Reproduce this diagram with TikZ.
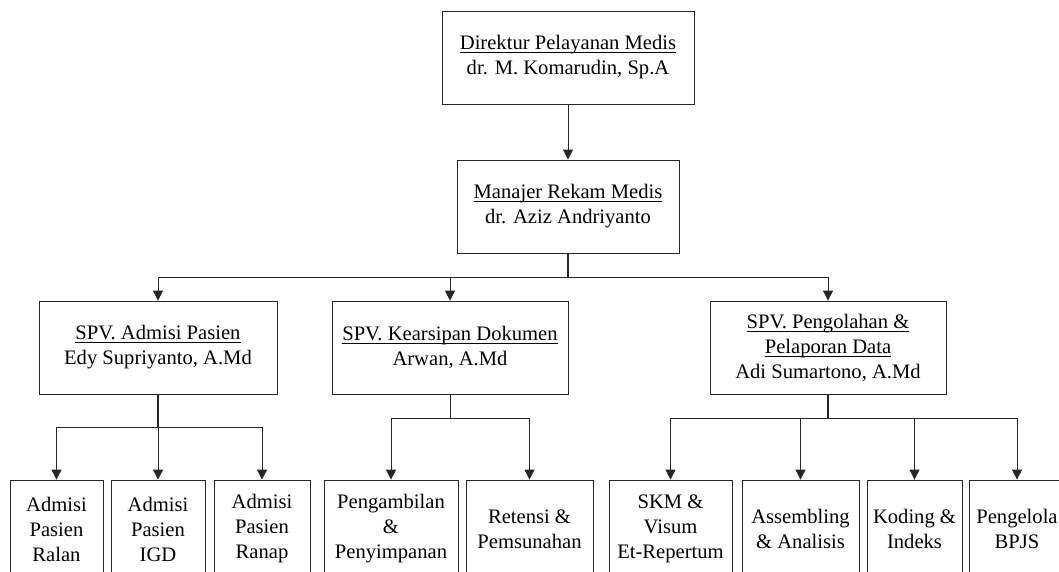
\documentclass[tikz,border=0pt]{standalone}
\usepackage{fontspec}
\usepackage{amsmath}
\setmainfont{Liberation Serif}
\usetikzlibrary{arrows.meta,positioning}
\newcommand{\undertxt}[1]{\underline{\smash[b]{#1}}}

\begin{document}
\begin{tikzpicture}[x=1pt, y=-1pt,
		box/.style={draw=black!85, line width=0.8pt, align=center, inner sep=0pt, minimum height=93pt, font=\fontsize{20.6}{25}\selectfont},
		unit/.style={box, minimum height=98pt},
		link/.style={draw=black!85, line width=0.8pt},
		stem/.style={link, line width=1.4pt},
		arr/.style={link, -{Triangle[length=10pt,width=10pt]}}]
			\useasboundingbox (0,0) rectangle (1059,571);

			\node[box, minimum width=252pt] (dir) at (568,57.5) {\undertxt{Direktur Pelayanan Medis}\\dr. M. Komarudin, Sp.A};
			\node[box, minimum width=222pt] (mgr) at (568,206.5) {\undertxt{Manajer Rekam Medis}\\dr. Aziz Andriyanto};

			\node[box, minimum width=238pt] (spv1) at (158,347.5) {\undertxt{SPV. Admisi Pasien}\\Edy Supriyanto, A.Md};
			\node[box, minimum width=236pt] (spv2) at (450,347.5) {\undertxt{SPV. Kearsipan Dokumen}\\Arwan, A.Md};
			\node[box, minimum width=236pt] (spv3) at (828,347.5) {\undertxt{SPV. Pengolahan \&}\\\undertxt{Pelaporan Data}\\Adi Sumartono, A.Md};

			\node[unit, minimum width=93pt] (ralan) at (56.5,529) {Admisi\\Pasien\\Ralan};
			\node[unit, minimum width=94pt] (igd) at (158,529) {Admisi\\Pasien\\IGD};
			\node[unit, minimum width=96pt] (ranap) at (262,529) {Admisi\\Pasien\\Ranap};

			\node[unit, minimum width=134pt] (ambil) at (391,529) {Pengambilan\\\&\\Penyimpanan};
			\node[unit, minimum width=127pt] (retensi) at (529.5,529) {Retensi \&\\Pemsunahan};

			\node[unit, minimum width=123pt] (skm) at (670.5,529) {SKM \&\\Visum\\Et-Repertum};
			\node[unit, minimum width=117pt] (assm) at (800.5,529) {Assembling\\\& Analisis};
			\node[unit, minimum width=95pt] (koding) at (914.5,529) {Koding \&\\Indeks};
			\node[unit, minimum width=96pt] (bpjs) at (1017,529) {Pengelola\\BPJS};

			\draw[arr] (dir) -- (mgr);

			\draw[stem] (mgr.south) -- ++(0,24) coordinate (hub);
			\draw[arr] (hub) -| (spv1);
			\draw[arr] (hub) -| (spv2);
			\draw[arr] (hub) -| (spv3);

			\draw[stem] (spv1.south) -- ++(0,33) coordinate (hub1);
			\draw[arr] (hub1) -| (ralan);
			\draw[arr] (hub1) -- (igd);
			\draw[arr] (hub1) -| (ranap);

			\draw[link] (spv2.south) -- ++(0,24) coordinate (hub2);
			\draw[arr] (hub2) -| (ambil);
			\draw[arr] (hub2) -| (retensi);

			\draw[stem] (spv3.south) -- ++(0,24) coordinate (hub3);
			\draw[arr] (hub3) -| (skm);
			\draw[arr] (hub3) -| (assm);
			\draw[arr] (hub3) -| (koding);
			\draw[arr] (hub3) -| (bpjs);
		\end{tikzpicture}
\end{document}
